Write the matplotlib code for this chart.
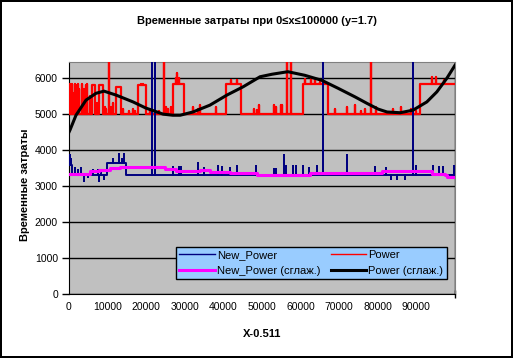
import matplotlib
matplotlib.use("Agg")
import matplotlib.pyplot as plt
from matplotlib.lines import Line2D

plt.rcParams['font.family'] = ['Liberation Sans', 'DejaVu Sans']

# Power (red): step levels and single-sample spikes
power_lvl_x = [0, 6000, 6700, 7800, 8800, 12200, 13500, 17900, 20000,
               27000, 29800, 40700, 44600, 60600, 67100, 91000, 100000]
power_lvl_y = [5000, 5800, 5000, 5800, 5000, 5750, 5000, 5800, 5000,
               5830, 5000, 5830, 5000, 5830, 5000, 5830]
power_spk_x = [300, 600, 900, 1200, 1500, 1800, 2100, 2400, 2700, 3300, 3900, 4300,
               4700, 5500, 7200, 9300, 9700, 10400, 10900, 11400, 14100, 15500,
               16600, 17200, 18700, 19200, 21000, 23300, 24600, 25000, 25700, 26300,
               28000, 27600, 28500, 32000, 33300, 34000, 38000, 42000, 43500,
               48000, 48800, 49300, 53000, 53500, 55000, 55300, 56500, 57500,
               61200, 62800, 63800, 65000, 69000, 72000, 74000, 75600, 76800, 78200,
               79500, 84000, 86000, 88500, 90000, 94000, 95000, 97200]
power_spk_y = [5850, 5700, 5850, 5600, 5850, 5800, 5750, 5850, 5700, 5850, 5700, 5800,
               5850, 5500, 5300, 5200, 5150, 7000, 5200, 5300, 5150, 5100,
               5150, 5100, 5850, 5850, 5150, 5100, 7000, 5200, 5150, 5200,
               6140, 6000, 6000, 5200, 5150, 5250, 5200, 5950, 5950,
               5150, 5120, 5250, 5250, 5200, 5250, 5250, 7000, 7000,
               5970, 5970, 5970, 5900, 5150, 5200, 5250, 5100, 5150, 7000,
               5200, 5150, 5200, 5150, 5100, 6030, 6030, 5950]

# New_Power (navy)
new_lvl_x = [0, 800, 9800, 14800, 100000]
new_lvl_y = [3600, 3300, 3640, 3300]
new_spk_x = [200, 500, 1500, 2400, 3200, 4000, 5000, 6200, 7400, 7700, 8200, 9000,
             11500, 13000, 13700, 14300, 21600, 22200, 27000, 28400, 28900,
             33400, 35100, 38500, 39700, 41700, 43600, 48500, 53000, 53500,
             55700, 56200, 58000, 58900, 60600, 62200, 64200, 65800, 72000,
             79400, 82200, 83500, 85000, 87000, 89100, 90000, 94300, 95800, 96800, 99700]
new_spk_y = [3870, 3750, 3500, 3450, 3500, 3150, 3250, 3450, 3450, 3150, 3450, 3200,
             3750, 3900, 3750, 3900, 6800, 6800, 3540, 3540, 3540,
             3630, 3500, 3560, 3540, 3500, 3560, 3560, 3470, 3470,
             3870, 3560, 3560, 3560, 3560, 3500, 3560, 6800, 3860,
             3530, 3500, 3200, 3200, 3200, 6800, 3560, 3560, 3530, 3530, 3560]

# trend lines
pow_sm_x = [0, 260, 1810, 4400, 7000, 9070, 12200, 16600, 19900, 24400, 26900, 28800,
            32100, 36500, 40900, 45100, 49500, 52600, 56700, 61100, 65500, 69700,
            74100, 77200, 80100, 82400, 85800, 89100, 92700, 95300, 97900, 100000]
pow_sm_y = [4500, 4560, 4970, 5390, 5580, 5640, 5530, 5340, 5170, 5000, 4970, 4970,
            5060, 5250, 5530, 5760, 6040, 6110, 6180, 6080, 5940, 5720,
            5480, 5300, 5140, 5060, 5040, 5110, 5340, 5620, 6000, 6360]
new_sm_x = [0, 2800, 5400, 7800, 10600, 13200, 22300, 24900, 27700, 33900, 36500,
            41700, 48700, 61700, 62400, 68900, 81100, 93000, 94000, 97400, 97900, 100000]
new_sm_y = [3330, 3350, 3420, 3450, 3500, 3530, 3530, 3480, 3430, 3440, 3380,
            3370, 3310, 3310, 3360, 3370, 3420, 3420, 3330, 3320, 3250, 3250]


def series(lx, ly, sx, sy):
    xs, ys = [], []
    for i, lvl in enumerate(ly):
        a, b = lx[i], lx[i + 1]
        xs.append(a)
        ys.append(lvl)
        for x, y in sorted(zip(sx, sy)):
            if a < x < b:
                xs += [x, x, x]
                ys += [lvl, y, lvl]
        xs.append(b)
        ys.append(lvl)
    return xs, ys


fig = plt.figure(figsize=(5.13, 3.58), dpi=100, facecolor='white',
                 edgecolor='black', linewidth=1.5)
ax = fig.add_axes([69 / 513, 1 - 294 / 358, 386 / 513, 232 / 358])
ax.set_facecolor('#C0C0C0')

px, py = series(power_lvl_x, power_lvl_y, power_spk_x, power_spk_y)
nx, ny = series(new_lvl_x, new_lvl_y, new_spk_x, new_spk_y)
ax.plot(px, py, color='#FF0000', lw=1.6, zorder=3)
ax.plot(nx, ny, color='#000080', lw=1.4, zorder=4)
ax.step(new_sm_x, new_sm_y, where='post', color='#FF00FF', lw=2.2, zorder=5)
ax.plot(pow_sm_x, pow_sm_y, color='black', lw=2.2, zorder=6)

ax.set_xlim(0, 100000)
ax.set_ylim(0, 6450)
ax.set_yticks(range(0, 7000, 1000))
ax.set_xticks(range(0, 100000, 10000))
ax.set_xticks(range(0, 100001, 20000), minor=True)
ax.tick_params(axis='x', which='major', length=0, labelsize=7.5, pad=6)
ax.tick_params(axis='x', which='minor', length=6, direction='inout', width=1)
ax.tick_params(axis='y', length=5, direction='out', width=1, labelsize=7.5, pad=3)
ax.grid(True, axis='y', color='black', lw=1)
ax.grid(True, axis='x', which='minor', color='black', lw=1)
ax.set_axisbelow(True)
for s in ['top', 'right']:
    ax.spines[s].set_color('#808080')
for s in ['left', 'bottom']:
    ax.spines[s].set_color('black')

fig.text(257 / 513, 1 - 21 / 358, 'Временные затраты при 0≤x≤100000 (y=1.7)',
         ha='center', va='center', fontsize=8, fontweight='bold')
ax.set_ylabel('Временные затраты', fontsize=8, fontweight='bold')
ax.yaxis.set_label_coords(-0.1, 0.47)
ax.set_xlabel('X-0.511', fontsize=8, fontweight='bold')
ax.xaxis.set_label_coords(0.5, -0.15)

handles = [Line2D([], [], color='#000080', lw=1),
           Line2D([], [], color='#FF00FF', lw=2.2),
           Line2D([], [], color='#FF0000', lw=1),
           Line2D([], [], color='black', lw=2.2)]
labels = ['New_Power', 'New_Power (сглаж.)', 'Power', 'Power (сглаж.)']
leg = fig.legend(handles, labels, ncol=2, loc='upper left',
                 bbox_to_anchor=(176 / 513, 1 - 247 / 358), fontsize=8,
                 frameon=True, fancybox=False, framealpha=1, borderaxespad=0,
                 handlelength=3.2, handletextpad=0.2, columnspacing=0.9,
                 labelspacing=0.5, borderpad=0.3)
leg.get_frame().set_facecolor('#99CCFF')
leg.get_frame().set_edgecolor('black')
leg.get_frame().set_linewidth(1)

fig.savefig('out.png', dpi=100, edgecolor=fig.get_edgecolor())
